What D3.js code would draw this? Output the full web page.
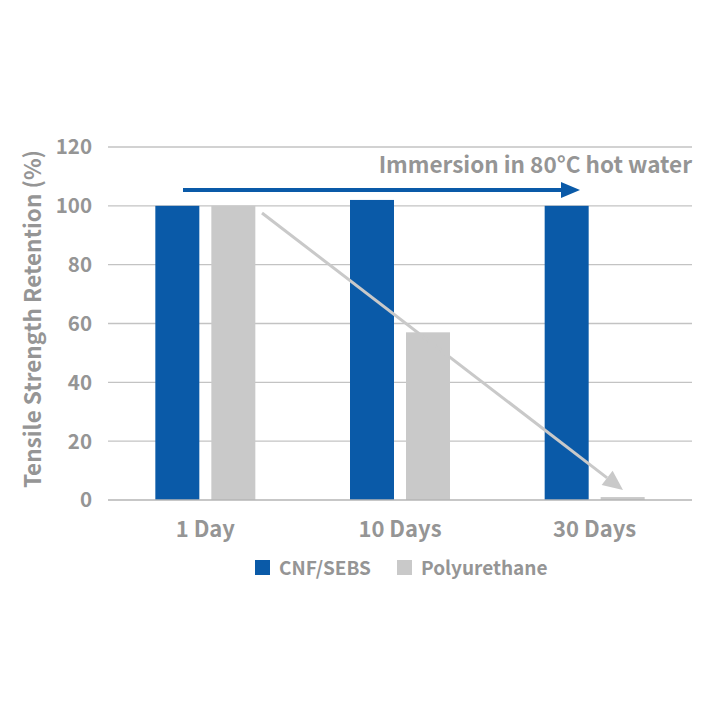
<!DOCTYPE html>
<html><head><meta charset="utf-8">
<script src="https://cdn.jsdelivr.net/npm/d3@7/dist/d3.min.js"></script>
<style>body{margin:0;background:#fff}svg{display:block}text{font-family:"Noto Sans CJK JP","Noto Sans",sans-serif;font-weight:700;fill:#959595}</style>
</head><body>
<script>
const categories = ["1 Day", "10 Days", "30 Days"];
const seriesNames = ["CNF/SEBS", "Polyurethane"];
const cnfSebs = [100, 102, 100];
const polyurethane = [100, 57, 1];
const yTicks = [0, 20, 40, 60, 80, 100, 120];
const colors = ["#0a5aa8", "#c9c9c9"];
const annotation = "Immersion in 80\u00B0C hot water";
const yTitle = "Tensile Strength Retention (%)";

const W = 712, H = 712;
const m = {l: 108, r: 692, t: 147, b: 500};
const svg = d3.select("body").append("svg").attr("width", W).attr("height", H);

const x = d3.scaleBand().domain(categories).range([m.l, m.r]);
const y = d3.scaleLinear().domain([0, 120]).range([m.b, m.t]);

// gridlines
svg.append("g").selectAll("line").data(yTicks.filter(d => d > 0)).join("line")
  .attr("x1", m.l).attr("x2", m.r).attr("y1", d => y(d)).attr("y2", d => y(d))
  .attr("stroke", "#c3c3c3").attr("stroke-width", 1.3);

// bars
const barW = 44, gap = 12;
const data = categories.map((c, i) => [cnfSebs[i], polyurethane[i]]);
const g = svg.append("g");
categories.forEach((c, i) => {
  const cx = x(c) + x.bandwidth() / 2;
  data[i].forEach((v, j) => {
    const bx = j === 0 ? cx - gap / 2 - barW : cx + gap / 2;
    g.append("rect").attr("x", bx).attr("width", barW)
      .attr("y", y(v)).attr("height", y(0) - y(v)).attr("fill", colors[j]);
  });
});

// baseline
svg.append("line").attr("x1", m.l).attr("x2", m.r).attr("y1", y(0)).attr("y2", y(0))
  .attr("stroke", "#b5b5b5").attr("stroke-width", 1.5);

// y tick labels
svg.append("g").selectAll("text").data(yTicks).join("text")
  .attr("x", 92).attr("y", d => y(d)).attr("dy", "0.36em").attr("text-anchor", "end")
  .attr("font-size", 20.5).text(d => d);

// x labels
svg.append("g").selectAll("text").data(categories).join("text")
  .attr("x", d => x(d) + x.bandwidth() / 2).attr("y", 537).attr("text-anchor", "middle")
  .attr("font-size", 22).text(d => d);

// y title
svg.append("text").attr("transform", "translate(41,319) rotate(-90)")
  .attr("text-anchor", "middle").attr("font-size", 22.5).text(yTitle);

// annotation
svg.append("text").attr("x", 692).attr("y", 173).attr("text-anchor", "end")
  .attr("font-size", 22.5).text(annotation);

// blue arrow
svg.append("line").attr("x1", 183).attr("x2", 563).attr("y1", 190).attr("y2", 190)
  .attr("stroke", colors[0]).attr("stroke-width", 4);
svg.append("path").attr("d", "M561,182 L580,190 L561,198 Z").attr("fill", colors[0]);

// gray arrow
const ax1 = 262, ay1 = 213, ax2 = 623, ay2 = 490;
const ang = Math.atan2(ay2 - ay1, ax2 - ax1);
const hl = 20, hw = 9;
const bxp = ax2 - hl * Math.cos(ang), byp = ay2 - hl * Math.sin(ang);
svg.append("line").attr("x1", ax1).attr("y1", ay1).attr("x2", bxp).attr("y2", byp)
  .attr("stroke", "#c9c9c9").attr("stroke-width", 3);
svg.append("path").attr("d", `M${ax2},${ay2} L${bxp - hw*Math.sin(ang)},${byp + hw*Math.cos(ang)} L${bxp + hw*Math.sin(ang)},${byp - hw*Math.cos(ang)} Z`)
  .attr("fill", "#c9c9c9");

// legend
const leg = [{n: seriesNames[0], c: colors[0], x: 255}, {n: seriesNames[1], c: colors[1], x: 397}];
leg.forEach(d => {
  svg.append("rect").attr("x", d.x).attr("y", 560).attr("width", 15).attr("height", 15).attr("fill", d.c);
  svg.append("text").attr("x", d.x + 24).attr("y", 575).attr("font-size", 19).text(d.n);
});
</script>
</body></html>
